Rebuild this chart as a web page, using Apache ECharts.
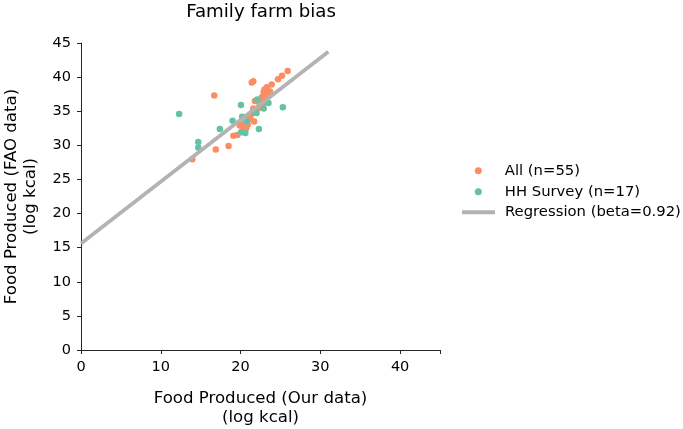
<!DOCTYPE html>
<html>
<head>
<meta charset="utf-8">
<script src="https://cdn.jsdelivr.net/npm/echarts@6/dist/echarts.min.js"></script>
<style>html,body{margin:0;padding:0;background:#fff}#c{width:683px;height:429px}</style>
</head>
<body>
<div id="c"></div>
<script>
const titleText = 'Family farm bias';
const xName = 'Food Produced (Our data)\n(log kcal)';
const yName = 'Food Produced (FAO data)\n(log kcal)';
const xTicks = [0, 10, 20, 30, 40];
const yTicks = [0, 5, 10, 15, 20, 25, 30, 35, 40, 45];

const allName = 'All (n=55)';
const allX = [13.95,16.7,16.9,18.5,19.1,19.6,19.9,20.3,20.7,20.4,21.7,21.4,21.6,21.8,21.4,21.6,23.0,23.2,23.7,23.9,24.7,25.2,25.9,22.7,22.6,22.4,22.2,23.0,23.4,22.9,21.2,21.0,20.9,22.8,23.3];
const allY = [27.95,37.3,29.4,29.9,31.4,31.5,32.9,32.7,32.5,33.2,33.5,34.6,35.4,36.5,39.2,39.4,38.2,37.5,37.9,38.9,39.7,40.2,40.9,37.1,36.4,36.0,35.4,36.8,37.2,37.8,33.9,34.3,33.0,36.0,38.5];

const hhName = 'HH Survey (n=17)';
const hhX = [12.3,14.7,14.7,17.4,19.0,20.05,20.2,20.8,20.05,20.6,22.1,22.0,22.3,22.9,23.5,25.3,21.6];
const hhY = [34.6,30.5,29.7,32.4,33.6,35.9,34.2,33.5,31.9,31.8,36.7,34.75,32.4,35.4,36.2,35.6,35.0];

const regName = 'Regression (beta=0.92)';
const regX = [0, 31];
const regY = [15.6, 43.7];

const zip = (a, b) => a.map((v, i) => [v, b[i]]);
const FONT = 'DejaVu Sans';
const axisCol = '#262626';
const legendText = (pad) => ({fontFamily: FONT, fontSize: 14.8, color: '#000', padding: [0,0,0,pad], lineHeight: 17});

const chart = echarts.init(document.getElementById('c'), null, {renderer: 'canvas'});
chart.setOption({
  animation: false,
  backgroundColor: '#fff',
  textStyle: {fontFamily: FONT},
  title: {
    text: titleText, left: 261, top: 1.5, textAlign: 'center', padding: 0,
    textStyle: {fontFamily: FONT, fontSize: 18.2, fontWeight: 'normal', color: '#000', lineHeight: 22}
  },
  grid: {left: 81, right: 243, top: 43, bottom: 79, containLabel: false, outerBoundsMode: 'none'},
  legend: [
    {data: [{name: allName, icon: 'circle'}], left: 474.8, top: 162.2, padding: 0, itemWidth: 7, itemHeight: 7, textStyle: legendText(18)},
    {data: [{name: hhName, icon: 'circle'}], left: 474.8, top: 183.2, padding: 0, itemWidth: 7, itemHeight: 7, textStyle: legendText(18)},
    {data: [{name: regName, icon: 'rect'}], left: 462, top: 203.8, padding: 0, itemWidth: 33, itemHeight: 4, textStyle: legendText(5)}
  ],
  xAxis: {
    type: 'value', min: 0, max: 45, interval: 10,
    name: xName, nameLocation: 'middle', nameGap: 39.5,
    nameTextStyle: {fontFamily: FONT, fontSize: 16.6, color: '#000', lineHeight: 19},
    axisLine: {show: true, lineStyle: {color: axisCol, width: 1}},
    axisTick: {show: true, length: 4, lineStyle: {color: axisCol}},
    axisLabel: {fontFamily: FONT, fontSize: 14.5, color: '#000', margin: 10,
      formatter: v => xTicks.includes(v) ? String(v) : ''},
    splitLine: {show: false}
  },
  yAxis: {
    type: 'value', min: 0, max: 45, interval: 5,
    name: yName, nameLocation: 'middle', nameGap: 40.5, nameRotate: 90,
    nameTextStyle: {fontFamily: FONT, fontSize: 16.6, color: '#000', lineHeight: 19},
    axisLine: {show: true, lineStyle: {color: axisCol, width: 1}},
    axisTick: {show: true, length: 4, lineStyle: {color: axisCol}},
    axisLabel: {fontFamily: FONT, fontSize: 14.5, color: '#000', margin: 10,
      formatter: v => yTicks.includes(v) ? String(v) : ''},
    splitLine: {show: false}
  },
  series: [
    {name: allName, type: 'scatter', data: zip(allX, allY), symbolSize: 6.5,
     itemStyle: {color: '#fc8d62', opacity: 1}, z: 2},
    {name: hhName, type: 'scatter', data: zip(hhX, hhY), symbolSize: 6.5,
     itemStyle: {color: '#66c2a5', opacity: 1}, z: 3},
    {name: regName, type: 'line', data: zip(regX, regY), showSymbol: false, symbol: 'none',
     lineStyle: {color: '#b3b3b3', width: 3.8}, itemStyle: {color: '#b3b3b3'}, z: 4}
  ]
});
</script>
</body>
</html>
